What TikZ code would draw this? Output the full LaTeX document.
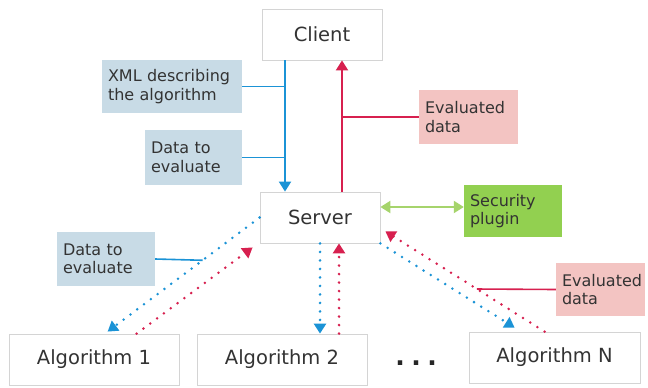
\documentclass[tikz,border=0pt]{standalone}
\usepackage{fontspec}
\setmainfont{DejaVu Sans}
\usetikzlibrary{arrows.meta,calc}
\definecolor{arrblue}{HTML}{1B93D6}
\definecolor{arrred}{HTML}{D7204F}
\definecolor{arrgreen}{HTML}{A6D46C}
\definecolor{lblblue}{HTML}{C8DBE6}
\definecolor{lblpink}{HTML}{F3C4C2}
\definecolor{lblgreen}{HTML}{92D050}
\definecolor{boxline}{HTML}{D4D4D4}
\definecolor{txt}{HTML}{333333}
\begin{document}
\begin{tikzpicture}[x=1pt,y=-1pt,
  mainbox/.style={draw=boxline,line width=0.8pt,fill=white,minimum height=51pt,inner sep=0pt,
     font=\fontsize{19.5}{22}\selectfont,text=txt},
  lbl/.style={minimum height=#1,inner xsep=6pt,inner ysep=0pt,align=left,
     font=\fontsize{16}{18.5}\selectfont,text=txt},
  bluearr/.style={draw=arrblue,line width=2pt,-{Triangle[width=12pt,length=10pt]}},
  redarr/.style={draw=arrred,line width=2pt,-{Triangle[width=12pt,length=10pt]}},
  greenarr/.style={draw=arrgreen,line width=2pt,{Triangle[width=12pt,length=10pt]}-{Triangle[width=12pt,length=10pt]}},
  bluedot/.style={draw=arrblue,line width=2.8pt,line cap=round,dash pattern=on 0pt off 8.5pt,-{Triangle[width=12pt,length=10pt]}},
  reddot/.style={draw=arrred,line width=2.8pt,line cap=round,dash pattern=on 0pt off 8.5pt,-{Triangle[width=12pt,length=10pt]}},
  blueline/.style={draw=arrblue,line width=1.6pt},
  redline/.style={draw=arrred,line width=1.6pt}]
\useasboundingbox (0,0) rectangle (648,388);
\fill[white] (0,0) rectangle (648,388);

% main boxes
\node[mainbox,minimum width=120pt] (client) at (322,34.5) {Client};
\node[mainbox,minimum width=120pt] (server) at (320,217.5) {Server};
\node[mainbox,minimum width=170pt] (alg1) at (94,359.5) {Algorithm 1};
\node[mainbox,minimum width=170pt] (alg2) at (282,359.5) {Algorithm 2};
\node[mainbox,minimum width=171pt] (algN) at (554.5,357.5) {Algorithm N};
\node[font=\fontsize{25}{25}\bfseries\selectfont,text=black!85,inner sep=0pt,anchor=base] (dots) at (416,365) {.\hspace{6.5pt}.\hspace{6.5pt}.};

% labels
\node[lbl=53pt,fill=lblblue,text width=128pt] (xml) at (172,86.5) {XML describing\\the algorithm};
\node[lbl=55pt,fill=lblblue,text width=85pt] (data1) at (193.5,157.5) {Data to\\evaluate};
\node[lbl=54pt,fill=lblpink,text width=87pt] (eval1) at (468.5,117) {Evaluated\\data};
\node[lbl=52pt,fill=lblgreen,text width=86pt] (sec) at (513,211) {Security\\plugin};
\node[lbl=54pt,fill=lblblue,text width=86pt] (data2) at (106,259) {Data to\\evaluate};
\node[lbl=53pt,fill=lblpink,text width=77pt] (eval2) at (600.5,289.5) {Evaluated\\data};

% client <-> server
\draw[bluearr] (client.south -| 285,0) -- (server.north -| 285,0);
\draw[redarr] (server.north -| 342,0) -- (client.south -| 342,0);
\draw[blueline] (xml.east) -- (xml.east -| 285,0);
\draw[blueline] (data1.east) -- (data1.east -| 285,0);
\draw[redline] (eval1.west) -- (eval1.west -| 342,0);

% security
\draw[greenarr] (server.east |- 0,207) -- (sec.west |- 0,207);

% server <-> algorithms
\coordinate (a1in) at ($(alg1.north west)+(99,-2)$);
\coordinate (a1out) at ($(alg1.north west)+(128,0)$);
\coordinate (srvA1) at ($(server.south west)+(-7,4)$);
\draw[bluedot] (server.west) -- coordinate[pos=0.375] (d2c) (a1in);
\draw[reddot] (a1out) -- (srvA1);
\draw[blueline] (data2.east) -- (d2c);

\draw[bluedot] (server.south) -- (alg2.north -| server.south);
\draw[reddot] (alg2.north -| 339,0) -- (server.south -| 339,0);

\coordinate (aNin) at ($(algN.north west)+(46,-4)$);
\coordinate (aNout) at ($(algN.north west)+(76,0)$);
\coordinate (srvAN) at ($(server.south east)+(5,-12)$);
\draw[bluedot] (server.south east) -- (aNin);
\draw[reddot] (aNout) -- coordinate[pos=0.425] (e2c) (srvAN);
\draw[redline] (eval2.west) -- (e2c);
\end{tikzpicture}
\end{document}
